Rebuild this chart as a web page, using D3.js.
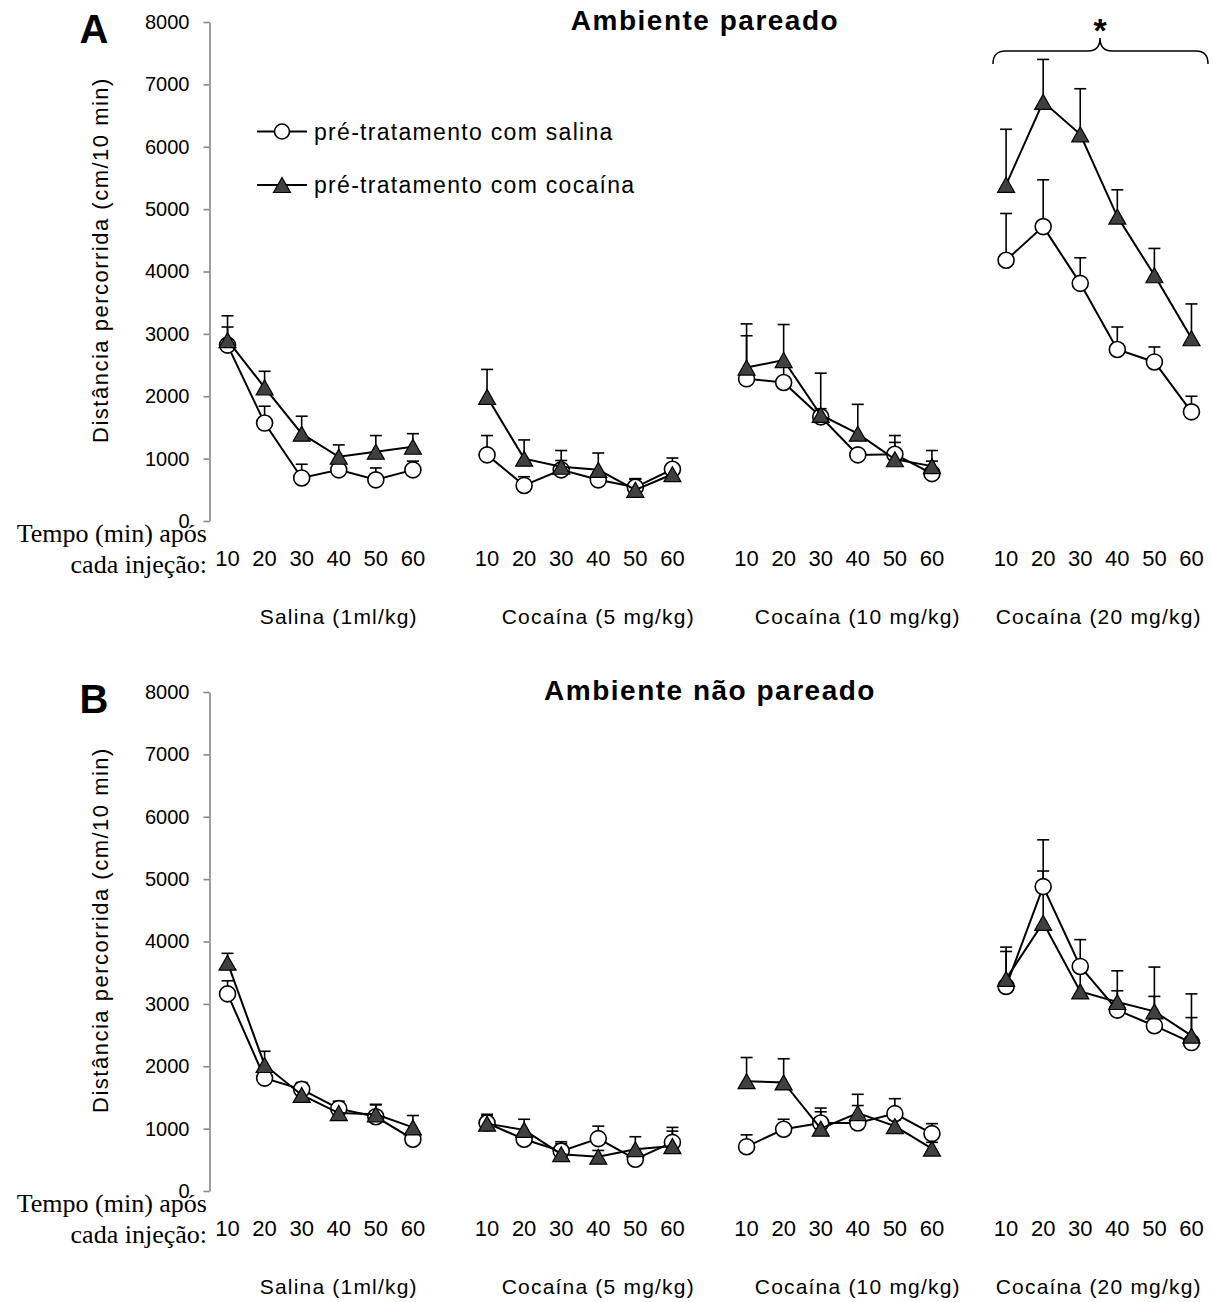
<!DOCTYPE html>
<html>
<head>
<meta charset="utf-8">
<script src="https://cdn.jsdelivr.net/npm/d3@7"></script>
<style>
  body { margin: 0; background: #fff; }
  svg { display: block; }
  text { font-family: "Liberation Sans", Arial, sans-serif; fill: #000; }
</style>
</head>
<body>
<div id="chart"></div>
<script>

// categories
var timeLabels = ["10", "20", "30", "40", "50", "60"];
var doseGroups = ["Salina (1ml/kg)", "Cocaína (5 mg/kg)", "Cocaína (10 mg/kg)", "Cocaína (20 mg/kg)"];
var yTicks = [0, 1000, 2000, 3000, 4000, 5000, 6000, 7000, 8000];
var seriesNames = ["pré-tratamento com salina", "pré-tratamento com cocaína"];

// A - ambiente pareado (mean, sem), 6 time points x 4 doses
var pairedSal    = [2820, 1570, 690, 820, 660, 820,  1060, 570, 820, 660, 540, 830,  2280, 2220, 1670, 1060, 1070, 760,  4180, 4720, 3810, 2750, 2550, 1750];
var pairedSalSem = [290, 270, 220, 100, 190, 140,  310, 140, 150, 120, 140, 180,  690, 300, 130, 60, 190, 200,  750, 750, 410, 360, 240, 250];
var pairedCoc    = [2900, 2140, 1400, 1030, 1110, 1190,  1990, 1000, 870, 820, 500, 750,  2460, 2580, 1700, 1400, 990, 880,  5390, 6720, 6200, 4880, 3940, 2930];
var pairedCocSem = [390, 260, 280, 190, 260, 210,  440, 300, 260, 270, 170, 150,  700, 570, 670, 470, 380, 250,  890, 680, 730, 430, 430, 550];

// B - ambiente nao pareado
var unpairedSal    = [3160, 1810, 1630, 1320, 1190, 830,  1090, 830, 640, 840, 510, 780,  710, 990, 1090, 1090, 1240, 920,  3280, 4880, 3600, 2900, 2650, 2380];
var unpairedSalSem = [210, 150, 110, 120, 200, 100,  140, 100, 150, 200, 100, 240,  190, 160, 240, 280, 240, 160,  560, 750, 430, 310, 470, 400];
var unpairedCoc    = [3660, 2020, 1540, 1250, 1230, 1020,  1080, 980, 590, 550, 670, 720,  1760, 1740, 1000, 1250, 1040, 680,  3400, 4300, 3200, 3030, 2880, 2490];
var unpairedCocSem = [150, 220, 100, 150, 150, 190,  130, 170, 170, 100, 200, 240,  380, 380, 270, 300, 100, 100,  510, 830, 420, 500, 710, 670];

var width = 1212, height = 1302;

var svg = d3.select("#chart").append("svg")
    .attr("width", width)
    .attr("height", height);

// category slots, with an empty slot after each dose group (like the excel sheet)
var slots = [];
doseGroups.forEach(function(g, gi) {
    timeLabels.forEach(function(t) { slots.push(g + "|" + t); });
    if (gi < doseGroups.length - 1) slots.push("gap" + gi);
});

var x = d3.scaleBand()
    .domain(slots)
    .range([209, 1210]);

function cx(gi, ti) {
    return x(doseGroups[gi] + "|" + timeLabels[ti]) + x.bandwidth() / 2;
}

function triPath(px, py) {
    return "M" + px + "," + (py - 7.5) + "L" + (px + 8.5) + "," + (py + 7.5) + "L" + (px - 8.5) + "," + (py + 7.5) + "Z";
}

function drawPanel(opt) {
    var g = svg.append("g");

    var y = d3.scaleLinear()
        .domain([0, 8000])
        .range(opt.yRange);
    var y0 = y(0);

    // y axis
    var axis = g.append("g")
        .attr("transform", "translate(209.5,0)")
        .call(d3.axisLeft(y).tickValues(yTicks).tickSize(6).tickSizeOuter(0).tickPadding(14).tickFormat(d3.format("d")));
    axis.select(".domain").attr("stroke", "#878787").attr("stroke-width", 1.6);
    axis.selectAll(".tick line").attr("stroke", "#878787").attr("stroke-width", 1.6);
    axis.selectAll(".tick text").style("font-size", "20px").attr("fill", "#000")
        .style("font-family", "'Liberation Sans', Arial, sans-serif");

    // y title
    g.append("text")
        .attr("transform", "translate(108," + (y0 - 261) + ") rotate(-90)")
        .attr("text-anchor", "middle")
        .style("font-size", "22px")
        .style("letter-spacing", "1.5px")
        .text("Distância percorrida (cm/10 min)");

    // panel letter
    g.append("text")
        .attr("x", 94).attr("y", y0 - 478)
        .attr("text-anchor", "middle")
        .style("font-size", "40px").style("font-weight", "bold")
        .text(opt.letter);

    // title
    g.append("text")
        .attr("x", opt.titleX).attr("y", y0 - 491)
        .attr("text-anchor", "middle")
        .style("font-size", "28px").style("font-weight", "bold")
        .style("letter-spacing", "1.5px")
        .text(opt.title);

    // x labels
    var serif = "'Liberation Serif', 'Times New Roman', serif";
    g.append("text").attr("x", 207).attr("y", y0 + 21).attr("text-anchor", "end")
        .style("font-family", serif).style("font-size", "26px").text("Tempo (min) após");
    g.append("text").attr("x", 207).attr("y", y0 + 52).attr("text-anchor", "end")
        .style("font-family", serif).style("font-size", "26px").text("cada injeção:");

    doseGroups.forEach(function(grp, gi) {
        timeLabels.forEach(function(t, ti) {
            g.append("text")
                .attr("x", cx(gi, ti)).attr("y", y0 + 45)
                .attr("text-anchor", "middle")
                .style("font-size", "22px")
                .text(t);
        });
        var first = x(grp + "|" + timeLabels[0]);
        var lastKey = gi < doseGroups.length - 1 ? "gap" + gi : grp + "|" + timeLabels[timeLabels.length - 1];
        var mid = (first + x(lastKey) + x.bandwidth()) / 2;
        g.append("text")
            .attr("x", mid).attr("y", y0 + 103)
            .attr("text-anchor", "middle")
            .style("font-size", "21px")
            .style("letter-spacing", "1.2px")
            .text(grp);
    });

    var series = [
        {vals: opt.sal, sem: opt.salSem, shape: "circle"},
        {vals: opt.coc, sem: opt.cocSem, shape: "triangle"}
    ];

    // error bars (upper only)
    series.forEach(function(s) {
        s.vals.forEach(function(v, i) {
            var gi = Math.floor(i / timeLabels.length), ti = i % timeLabels.length;
            var px = cx(gi, ti);
            g.append("line")
                .attr("x1", px).attr("x2", px)
                .attr("y1", y(v)).attr("y2", y(v + s.sem[i]))
                .attr("stroke", "#000").attr("stroke-width", 1.6);
            g.append("line")
                .attr("x1", px - 6).attr("x2", px + 6)
                .attr("y1", y(v + s.sem[i])).attr("y2", y(v + s.sem[i]))
                .attr("stroke", "#000").attr("stroke-width", 1.6);
        });
    });

    // lines and markers
    series.forEach(function(s) {
        doseGroups.forEach(function(grp, gi) {
            var pts = timeLabels.map(function(t, ti) {
                return [cx(gi, ti), y(s.vals[gi * timeLabels.length + ti])];
            });
            g.append("path")
                .attr("d", d3.line()(pts))
                .attr("fill", "none")
                .attr("stroke", "#000")
                .attr("stroke-width", 2);
            pts.forEach(function(p) {
                if (s.shape === "circle") {
                    g.append("circle")
                        .attr("cx", p[0]).attr("cy", p[1]).attr("r", 8)
                        .attr("fill", "#fff").attr("stroke", "#000").attr("stroke-width", 1.6);
                } else {
                    g.append("path")
                        .attr("d", triPath(p[0], p[1]))
                        .attr("fill", "#404040").attr("stroke", "#000").attr("stroke-width", 1.2);
                }
            });
        });
    });

    return g;
}

var gA = drawPanel({
    yRange: [521, 22], letter: "A", title: "Ambiente pareado", titleX: 705,
    sal: pairedSal, salSem: pairedSalSem, coc: pairedCoc, cocSem: pairedCocSem
});
drawPanel({
    yRange: [1191, 692], letter: "B", title: "Ambiente não pareado", titleX: 710,
    sal: unpairedSal, salSem: unpairedSalSem, coc: unpairedCoc, cocSem: unpairedCocSem
});

// legend (panel A only)
var leg = gA.append("g");
[131.5, 185].forEach(function(ly, i) {
    leg.append("line").attr("x1", 257).attr("x2", 307).attr("y1", ly).attr("y2", ly)
        .attr("stroke", "#000").attr("stroke-width", 2);
    if (i === 0) {
        leg.append("circle").attr("cx", 282).attr("cy", ly).attr("r", 7.5)
            .attr("fill", "#fff").attr("stroke", "#000").attr("stroke-width", 1.6);
    } else {
        leg.append("path").attr("d", triPath(282, ly))
            .attr("fill", "#404040").attr("stroke", "#000").attr("stroke-width", 1.2);
    }
    leg.append("text").attr("x", 314).attr("y", ly + 8)
        .style("font-size", "23px").style("letter-spacing", "1.3px")
        .text(seriesNames[i]);
});

// significance brace over the 20 mg/kg group
gA.append("path")
    .attr("d", "M993,64 C993,56 996,51 1006,51 L1088,51 C1096,51 1100,46 1100,38 C1100,46 1104,51 1112,51 L1196,51 C1205,51 1208,56 1208,64")
    .attr("fill", "none").attr("stroke", "#000").attr("stroke-width", 1.5);
gA.append("text")
    .attr("x", 1100).attr("y", 42)
    .attr("text-anchor", "middle")
    .style("font-size", "34px").style("font-weight", "bold")
    .text("*");

</script>
</body>
</html>
